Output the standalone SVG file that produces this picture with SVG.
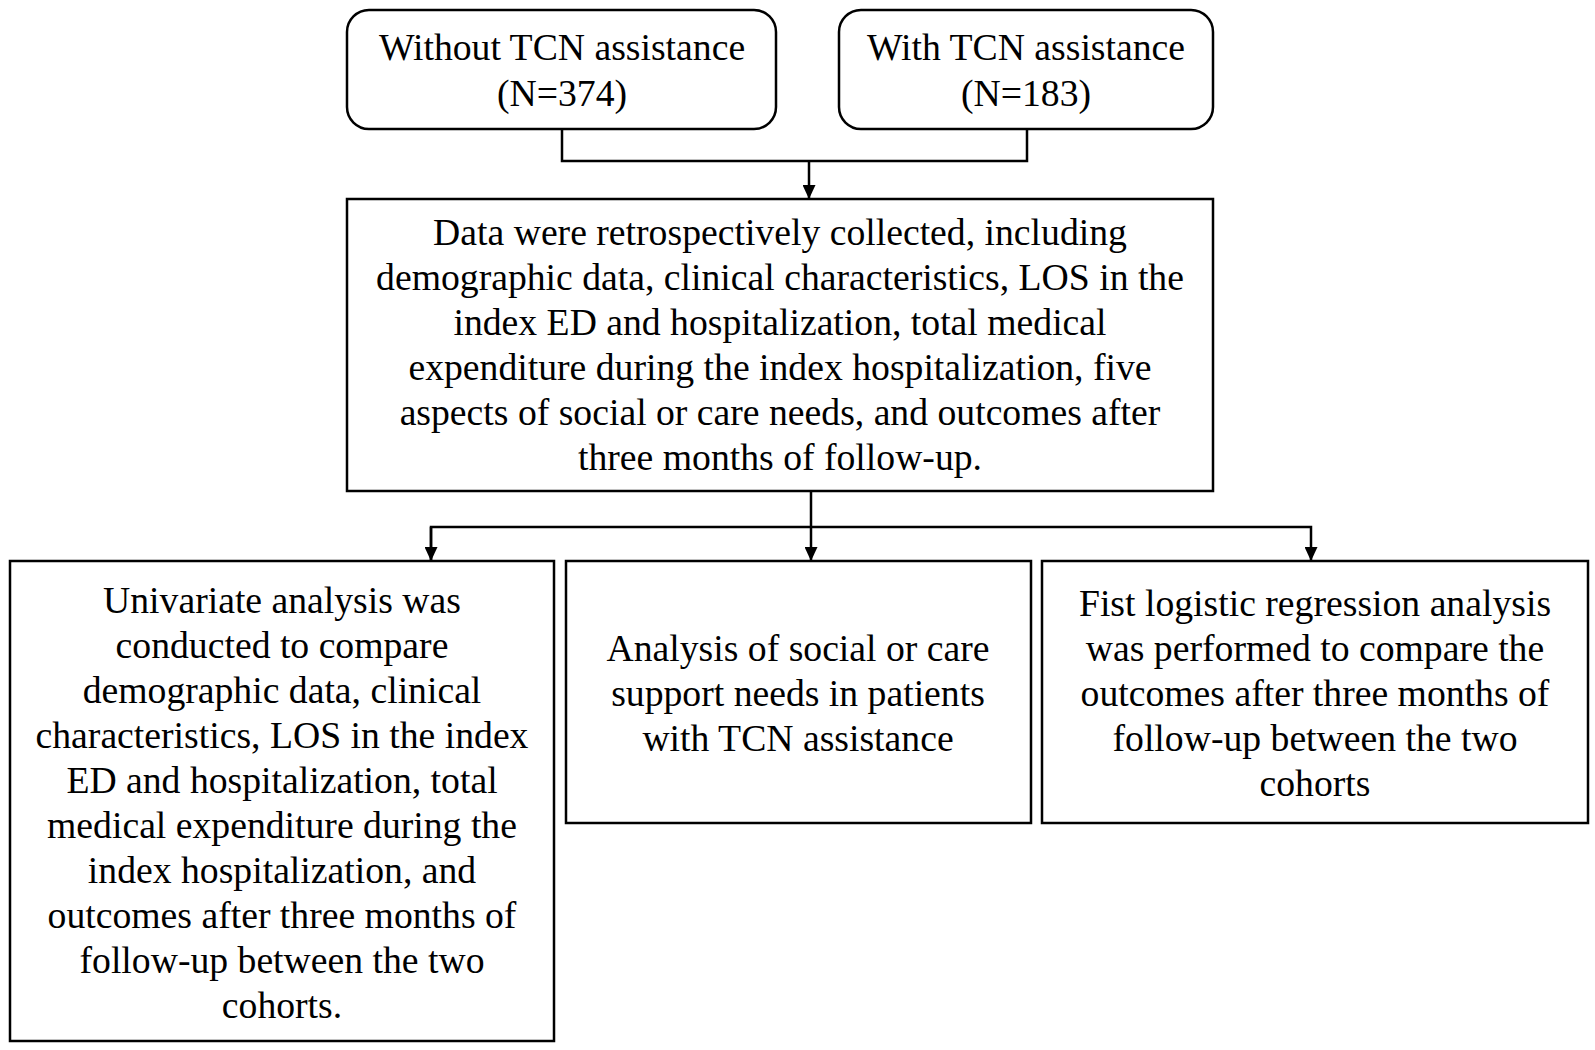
<svg xmlns="http://www.w3.org/2000/svg" width="1595" height="1050" viewBox="0 0 1595 1050">
<style>
.box{fill:#fff;stroke:#000;stroke-width:2.5}
.t{font-family:"Liberation Serif","Times New Roman",serif;font-size:37.7px;fill:#000;text-anchor:middle}
.c{fill:none;stroke:#000;stroke-width:2.5}
</style>
<defs>
<marker id="ah" viewBox="0 0 14 13" refX="14" refY="6.5" markerWidth="14" markerHeight="13" markerUnits="userSpaceOnUse" orient="auto">
<path d="M0,0 L14,6.5 L0,13 Z" fill="#000"/>
</marker>
</defs>
<rect width="1595" height="1050" fill="#fff"/>
<g id="connectors">
<path class="c" d="M562,129 V161 H1027 V129"/>
<path class="c" d="M809,161 V199" marker-end="url(#ah)"/>
<path class="c" d="M811,491 V561" marker-end="url(#ah)"/>
<path class="c" d="M431,561 V527 H1311 V561" marker-end="url(#ah)"/>
<path class="c" d="M431,527 V561" marker-end="url(#ah)"/>
</g>
<g id="node-without">
<rect class="box" x="347" y="10" width="429" height="119" rx="22"/>
<text class="t" x="562" y="60">Without TCN assistance</text>
<text class="t" x="562" y="106">(N=374)</text>
</g>
<g id="node-with">
<rect class="box" x="839" y="10" width="374" height="119" rx="22"/>
<text class="t" x="1026" y="60">With TCN assistance</text>
<text class="t" x="1026" y="106">(N=183)</text>
</g>
<g id="node-data">
<rect class="box" x="347" y="199" width="866" height="292"/>
<text class="t" x="780" y="245">Data were retrospectively collected, including</text>
<text class="t" x="780" y="290">demographic data, clinical characteristics, LOS in the</text>
<text class="t" x="780" y="335">index ED and hospitalization, total medical</text>
<text class="t" x="780" y="380">expenditure during the index hospitalization, five</text>
<text class="t" x="780" y="425">aspects of social or care needs, and outcomes after</text>
<text class="t" x="780" y="470">three months of follow-up.</text>
</g>
<g id="node-univariate">
<rect class="box" x="10" y="561" width="544" height="480"/>
<text class="t" x="282" y="613">Univariate analysis was</text>
<text class="t" x="282" y="658">conducted to compare</text>
<text class="t" x="282" y="703">demographic data, clinical</text>
<text class="t" x="282" y="748">characteristics, LOS in the index</text>
<text class="t" x="282" y="793">ED and hospitalization, total</text>
<text class="t" x="282" y="838">medical expenditure during the</text>
<text class="t" x="282" y="883">index hospitalization, and</text>
<text class="t" x="282" y="928">outcomes after three months of</text>
<text class="t" x="282" y="973">follow-up between the two</text>
<text class="t" x="282" y="1018">cohorts.</text>
</g>
<g id="node-social">
<rect class="box" x="566" y="561" width="465" height="262"/>
<text class="t" x="798" y="661">Analysis of social or care</text>
<text class="t" x="798" y="706">support needs in patients</text>
<text class="t" x="798" y="751">with TCN assistance</text>
</g>
<g id="node-logistic">
<rect class="box" x="1042" y="561" width="546" height="262"/>
<text class="t" x="1315" y="616">Fist logistic regression analysis</text>
<text class="t" x="1315" y="661">was performed to compare the</text>
<text class="t" x="1315" y="706">outcomes after three months of</text>
<text class="t" x="1315" y="751">follow-up between the two</text>
<text class="t" x="1315" y="796">cohorts</text>
</g>
</svg>
